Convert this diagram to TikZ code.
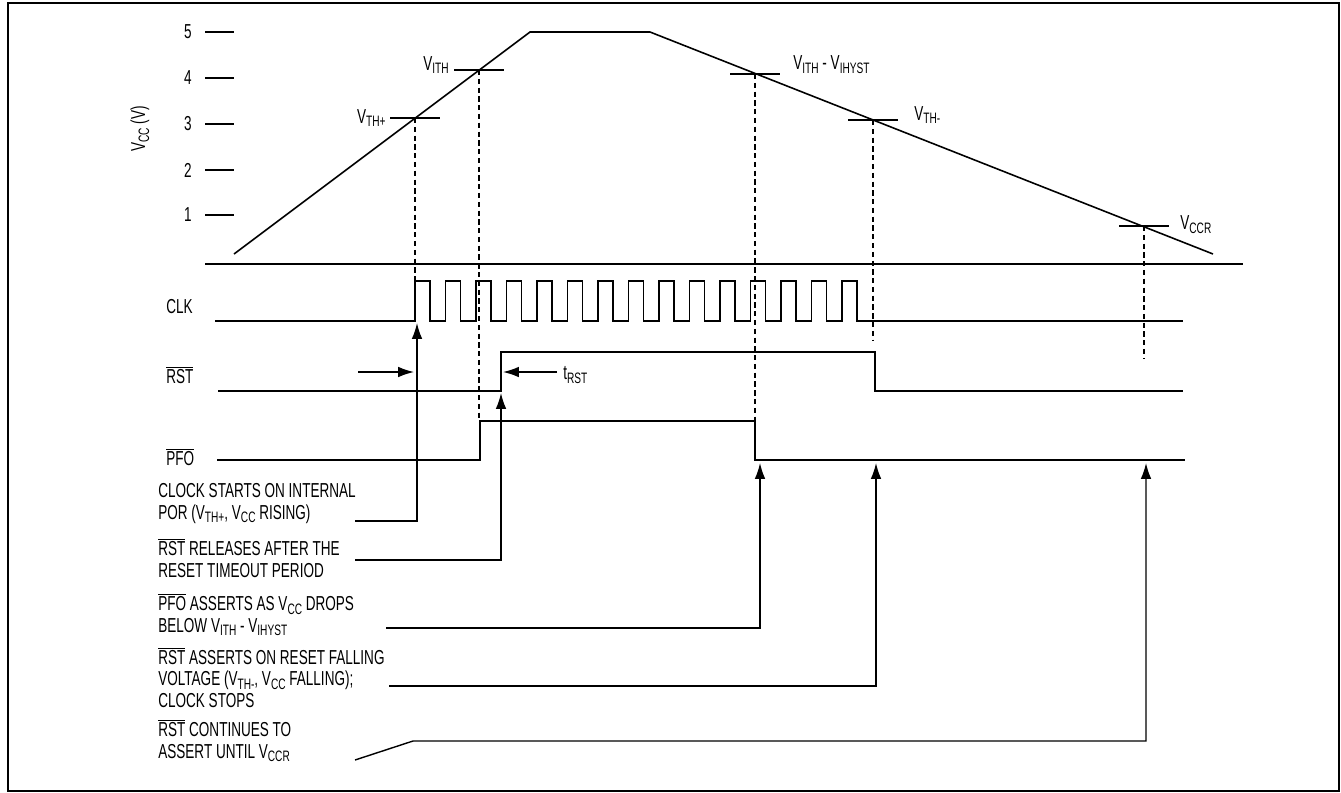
\documentclass[tikz,border=0pt]{standalone}
\usepackage{fontspec}
\setmainfont{Liberation Sans}[FakeStretch=0.67]
\usetikzlibrary{arrows.meta,calc,positioning}

\newcommand{\vsig}[1]{V\raisebox{-2.2pt}{\fontsize{8.6}{10}\selectfont #1}}
\newcommand{\inv}[1]{$\overline{\mbox{#1}}$}

\begin{document}
\begin{tikzpicture}[x=0.02cm,y=-0.02cm,
    font=\fontsize{11.5}{12}\selectfont,
    sig/.style={line width=0.9pt},
    guide/.style={line width=0.8pt,dash pattern=on 3pt off 2pt},
    lead/.style={line width=0.8pt,-{Latex[length=9pt,width=6pt]}},
    lab/.style={inner sep=0pt,align=left,anchor=base west}]
            \useasboundingbox (0,0) rectangle (1341,792);
            \draw[line width=1.4pt] (8,3) rectangle (1339,791);
            % Axis of the supply voltage
            \foreach \v/\y in {5/32,4/78,3/124,2/170,1/215} {
              \draw[sig] (205,\y) -- (234,\y);
              \node (tick\v) at (188,\y) {\v};
            }
            \node[rotate=90] (vccaxis) at (140,129) {\vsig{CC} (V)};
            \draw[sig] (205,264) -- (1243,264);
            % Supply ramp
            \draw[sig] (234,254) -- (530,32) -- (650,32) -- (1213,254);
            % Define points
            \coordinate (thp) at (415,118);
            \coordinate (ith) at (479,70);
            \coordinate (hys) at (755,74);
            \coordinate (thm) at (873,120);
            \coordinate (ccr) at (1144,226);
            % Mark points
            \foreach \p in {thp,ith,hys,thm,ccr}
              \draw[sig] ($(\p)+(-25,0)$) -- ($(\p)+(25,0)$);
            \node[inner sep=0pt,anchor=east] (lthp) at (386,118) {\vsig{TH+}};
            \node[inner sep=0pt,anchor=east] (lith) at (449,65) {\vsig{ITH}};
            \node[inner sep=0pt,anchor=west] (lhys) at (793,65) {\vsig{ITH} - \vsig{IHYST}};
            \node[inner sep=0pt,anchor=west] (lthm) at (914,115) {\vsig{TH-}};
            \node[inner sep=0pt,anchor=west] (lccr) at (1180,225) {\vsig{CCR}};
            % Drop lines
            \draw[guide] (thp) -- (415,281);
            \draw[guide] (ith) -- (479,420);
            \draw[guide] (hys) -- (755,421);
            \draw[guide] (thm) -- (873,340);
            \draw[guide] (ccr) -- (1144,359);
            % Signals
            \node[inner sep=0pt,anchor=west] (clk) at (166,307) {CLK};
            \node[inner sep=0pt,anchor=west] (rst) at (166,375) {\inv{RST}};
            \node[inner sep=0pt,anchor=west] (pfo) at (166,457) {\inv{PFO}};
            \draw[sig] (215,321) -- (415,321)
              \foreach \k in {0,...,14} { -- ++(0,-40) -- ++(15,0) -- ++(0,40) -- ++(15.5,0) }
              -- (1183,321);
            \draw[sig] (218,391) -- (501,391) -- (501,352) -- (875,352) -- (875,391) -- (1183,391);
            \draw[sig] (217,460) -- (480,460) -- (480,421) -- (755,421) -- (755,460) -- (1185,460);
            % Reset timeout
            \coordinate (tl) at (358,372);
            \coordinate (tr) at (557,372);
            \draw[lead] (tl) -- (414,372);
            \draw[lead] (tr) -- (503,372);
            \node[inner sep=0pt,anchor=west] (trst) at (563,375) {t\raisebox{-2.2pt}{\fontsize{8.6}{10}\selectfont RST}};
            % Notes
            \node[lab] (n1) at (158,519) {CLOCK STARTS ON INTERNAL\\POR (\vsig{TH+}, \vsig{CC} RISING)};
            \node[lab] (n2) at (158,577) {\inv{RST} RELEASES AFTER THE\\RESET TIMEOUT PERIOD};
            \node[lab] (n3) at (158,632) {\inv{PFO} ASSERTS AS \vsig{CC} DROPS\\BELOW \vsig{ITH} - \vsig{IHYST}};
            \node[lab] (n4) at (158,707) {\inv{RST} ASSERTS ON RESET FALLING\\VOLTAGE (\vsig{TH-}, \vsig{CC} FALLING);\\CLOCK STOPS};
            \node[lab] (n5) at (158,758) {\inv{RST} CONTINUES TO\\ASSERT UNTIL \vsig{CCR}};
            \coordinate (s1) at (355,521);
            \coordinate (s2) at (355,560);
            \coordinate (s3) at (386,628);
            \coordinate (s4) at (389,686);
            \coordinate (s5) at (355,760);
            \coordinate (k5) at (413,741);
            \coordinate (a1) at (417,323);
            \coordinate (a2) at (501,393);
            \coordinate (a3) at (760,463);
            \coordinate (a4) at (876,463);
            \coordinate (a5) at (1146,463);
            \draw[lead] (s1) -| (a1);
            \draw[lead] (s2) -| (a2);
            \draw[lead] (s3) -| (a3);
            \draw[lead] (s4) -| (a4);
            \draw[lead] (s5) -- (k5) -| (a5);
          \end{tikzpicture}
\end{document}
